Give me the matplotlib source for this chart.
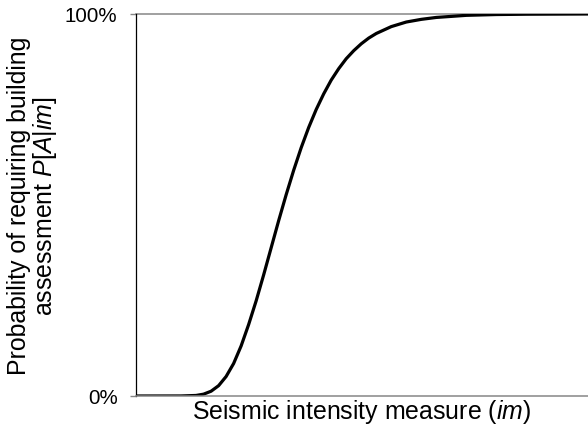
import numpy as np
import matplotlib
matplotlib.use('Agg')
import matplotlib.pyplot as plt

plt.rcParams['font.family'] = ['Liberation Sans', 'DejaVu Sans']
plt.rcParams['mathtext.fontset'] = 'custom'
plt.rcParams['mathtext.it'] = 'Liberation Sans:italic'
plt.rcParams['mathtext.rm'] = 'Liberation Sans'

# values (im in arbitrary units, P as fraction)
im = [0.0, 0.30, 0.40, 0.45, 0.50, 0.55, 0.60, 0.65, 0.70, 0.75, 0.80, 0.85,
      0.90, 0.95, 1.00, 1.05, 1.10, 1.15, 1.20, 1.25, 1.30, 1.35, 1.40, 1.45,
      1.50, 1.55, 1.60, 1.70, 1.80, 1.90, 2.00, 2.20, 2.40, 2.60, 3.01]
prob = [0.0, 0.0001, 0.0014, 0.0048, 0.0125, 0.027, 0.051, 0.085, 0.131,
        0.187, 0.249, 0.317, 0.388, 0.459, 0.527, 0.591, 0.650, 0.703, 0.750,
        0.791, 0.827, 0.857, 0.883, 0.904, 0.922, 0.937, 0.949, 0.967, 0.979,
        0.986, 0.991, 0.9965, 0.9986, 0.9994, 1.0]
yticks = [0, 1]
ytick_labels = ['0%', '100%']

fig = plt.figure(figsize=(5.88, 4.31), dpi=100)
ax = fig.add_axes([0.2313, 0.0789, 0.7687, 0.8863])

ax.plot(im, prob, color='black', lw=2.3, solid_capstyle='butt', solid_joinstyle='round')
ax.set_xlim(0, 3.01)
ax.set_ylim(0, 1)

ax.set_yticks(yticks)
ax.set_yticklabels(ytick_labels)
ax.set_xticks([])
ax.tick_params(axis='y', length=4.3, width=1.0, color='#868686', pad=9, labelsize=14.8)
ax.axhline(1.0, color='#868686', lw=1.1, clip_on=False, zorder=1)

for s in ['top', 'right']:
    ax.spines[s].set_visible(False)
ax.spines['bottom'].set_color('#868686')
ax.spines['bottom'].set_linewidth(1.1)
ax.spines['left'].set_color('black')
ax.spines['left'].set_linewidth(0.9)

ax.set_xlabel('Seismic intensity measure ($\\mathit{im}$)', fontsize=17.9, labelpad=1)
ax.set_ylabel('Probability of requiring building\nassessment $\\mathit{P}$[$\\mathit{A}$|$\\mathit{im}$]',
              fontsize=17.9, labelpad=4, linespacing=1.0)

fig.savefig('out.png', dpi=100)
